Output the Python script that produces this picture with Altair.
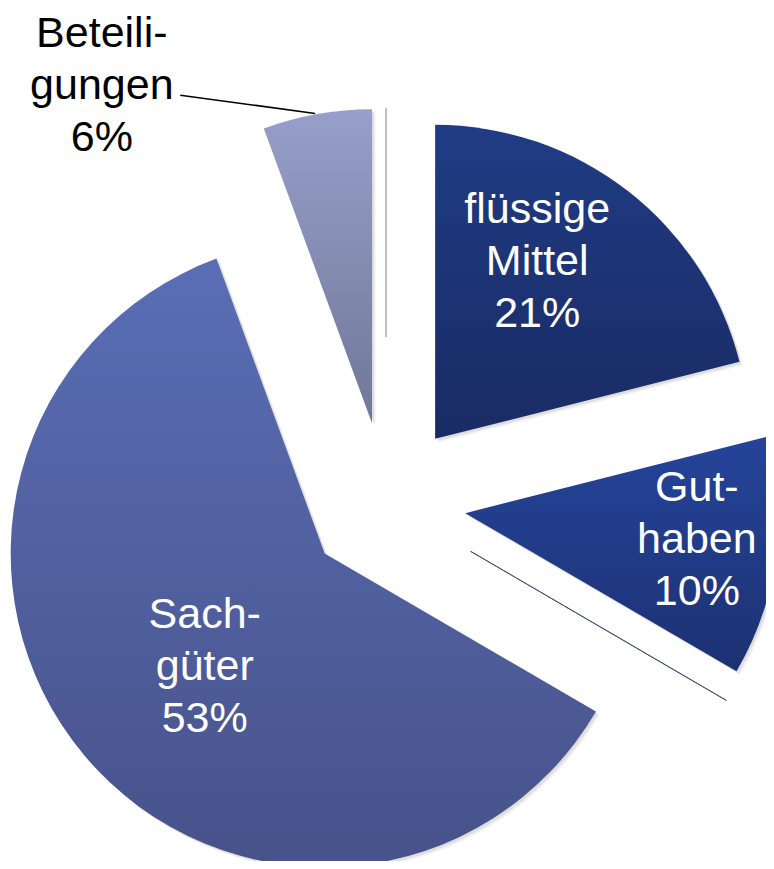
import math
import altair as alt
import pandas as pd

# ---- data ----
slices = ["Trennlinie oben", "flüssige Mittel", "Guthaben", "Trennlinie unten", "Sachgüter", "Beteiligungen"]
shares = [0.0, 21.05, 12.35, 0.0, 61.0, 5.6]          # share of the full circle (slice angles)
labels = ["", "flüssige\nMittel\n21%", "Gut-\nhaben\n10%", "", "Sach-\ngüter\n53%", "Beteili-\ngungen\n6%"]

# ---- styles / layout ----
CX, CY = 378, 494        # pie centre in the plot area (px)
EXPLODE = 80             # explode distance (px)
R = 314                  # outer radius (px)
grad_top = {"flüssige Mittel": "#203c84", "Guthaben": "#25449a",
            "Sachgüter": "#5a6eb5", "Beteiligungen": "#979fca"}
grad_bottom = {"flüssige Mittel": "#192b64", "Guthaben": "#1c3172",
               "Sachgüter": "#47528a", "Beteiligungen": "#6f7898"}
line_color = {"Trennlinie oben": "#a4a9c6", "Trennlinie unten": "#4a5178"}
inner_r = {"Trennlinie oben": 85, "Trennlinie unten": 18}
label_pos = {"flüssige Mittel": (29.7, 206), "Guthaben": (96.2, 233),
             "Sachgüter": (227.0, 164), "Beteiligungen": (321.5, 434)}
label_color = {"flüssige Mittel": "white", "Guthaben": "white",
               "Sachgüter": "white", "Beteiligungen": "black"}
leader = {"Beteiligungen": (329.7, 380, 349.6, 315)}   # (angle, r) start, (angle, r) end

df = pd.DataFrame({"slice": slices, "share": shares, "label": labels, "order": list(range(len(slices)))})
df["r_in"] = [inner_r.get(s, 0) for s in slices]
df["lt"] = [math.radians(label_pos[s][0]) if s in label_pos else 0.0 for s in slices]
df["lr"] = [label_pos[s][1] if s in label_pos else 0.0 for s in slices]
df["tcol"] = [label_color.get(s, "black") for s in slices]
df["la0"] = [math.radians(leader[s][0]) if s in leader else 0.0 for s in slices]
df["lr0"] = [leader[s][1] if s in leader else 0.0 for s in slices]
df["la1"] = [math.radians(leader[s][2]) if s in leader else 0.0 for s in slices]
df["lr1"] = [leader[s][3] if s in leader else 0.0 for s in slices]

base = alt.Chart(df).transform_window(
    cum="sum(share)", sort=[alt.SortField("order")], frame=[None, 0]
).transform_calculate(
    t0="(datum.cum - datum.share) * 2 * PI / 100",
    t1="datum.cum * 2 * PI / 100",
    mid="(datum.cum - datum.share / 2) * 2 * PI / 100",
).transform_calculate(
    cx=f"{CX} + {EXPLODE} * sin(datum.mid)",
    cy=f"{CY} - {EXPLODE} * cos(datum.mid)",
    r_out=f"{R}",
)

arc_enc = dict(
    x=alt.X("cx:Q", scale=None, axis=None),
    y=alt.Y("cy:Q", scale=None, axis=None),
    theta=alt.Theta("t0:Q", scale=None),
    theta2=alt.Theta2("t1:Q"),
    radius=alt.Radius("r_out:Q", scale=None),
    radius2=alt.Radius2("r_in:Q"),
)

# soft shadow under the filled slices
shadows = [
    base.transform_filter(alt.datum.share > 0)
    .mark_arc(fill="#000000", opacity=op, xOffset=off, yOffset=off)
    .encode(**arc_enc)
    for op, off in [(0.06, 3.5), (0.08, 2)]
]

layers = []
for s in slices:
    if s in grad_top:
        grad = alt.LinearGradient(
            gradient="linear",
            stops=[alt.GradientStop(color=grad_top[s], offset=0),
                   alt.GradientStop(color=grad_bottom[s], offset=1)],
            x1=0, x2=0, y1=0, y2=1,
        )
        layers.append(
            base.transform_filter(alt.datum.slice == s)
            .mark_arc(fill=grad)
            .encode(**arc_enc)
        )
    else:
        layers.append(
            base.transform_filter(alt.datum.slice == s)
            .mark_arc(fillOpacity=0, stroke=line_color[s], strokeWidth=1)
            .encode(**arc_enc)
        )

texts = base.transform_filter(alt.datum.label != "").mark_text(
    font="Liberation Sans", fontSize=43, lineHeight=52, lineBreak="\n",
    align="center", baseline="middle", dy=-50,
).encode(
    x=alt.X("cx:Q", scale=None, axis=None),
    y=alt.Y("cy:Q", scale=None, axis=None),
    theta=alt.Theta("lt:Q", scale=None),
    radius=alt.Radius("lr:Q", scale=None),
    text="label:N",
    color=alt.Color("tcol:N", scale=None),
)

leader_line = base.transform_filter(alt.datum.lr0 > 0).transform_calculate(
    lx0="datum.cx + datum.lr0 * sin(datum.la0)",
    ly0="datum.cy - datum.lr0 * cos(datum.la0)",
    lx1="datum.cx + datum.lr1 * sin(datum.la1)",
    ly1="datum.cy - datum.lr1 * cos(datum.la1)",
).mark_rule(color="black", strokeWidth=1.5).encode(
    x=alt.X("lx0:Q", scale=None, axis=None),
    y=alt.Y("ly0:Q", scale=None, axis=None),
    x2="lx1:Q",
    y2="ly1:Q",
)

chart = alt.layer(*shadows, *layers, leader_line, texts).properties(
    width=758, height=853, padding=0, autosize="none", background="white"
).configure_view(stroke=None)

chart.save("out.html", embed_options={"renderer": "svg", "actions": False})
